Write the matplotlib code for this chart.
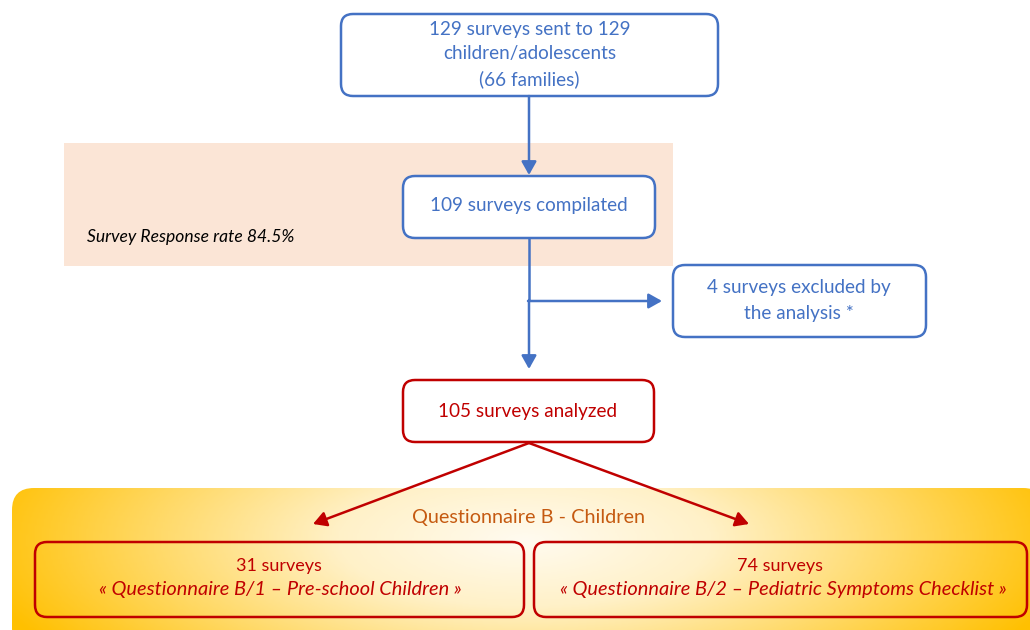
import matplotlib
matplotlib.use("Agg")
import matplotlib.pyplot as plt
import numpy as np
from matplotlib.patches import FancyBboxPatch, Rectangle, FancyArrowPatch
from matplotlib.colors import LinearSegmentedColormap

# ---- data ----
sent = 129
children = 129
families = 66
compiled = 109
response_rate = 84.5
excluded = 4
analyzed = 105
b1_count = 31
b2_count = 74
b1_name = "Questionnaire B/1 – Pre-school Children"
b2_name = "Questionnaire B/2 – Pediatric Symptoms Checklist"
group_name = "Questionnaire B - Children"

BLUE = "#4472C4"
RED = "#C00000"
FONT = "Lato"
W = "normal"
FS = 13.6

fig = plt.figure(figsize=(10.3, 6.3), dpi=100)
ax = fig.add_axes([0, 0, 1, 1])
ax.set_xlim(0, 1030)
ax.set_ylim(630, 0)
ax.axis("off")


def rbox(x0, y0, x1, y1, ec, fc="white", r=12, lw=1.8, z=3):
    p = FancyBboxPatch((x0, y0), x1 - x0, y1 - y0,
                       boxstyle=f"round,pad=0,rounding_size={r}",
                       ec=ec, fc=fc, lw=lw, zorder=z)
    ax.add_patch(p)
    return p


def arrow(x0, y0, x1, y1, color, lw=1.8):
    a = FancyArrowPatch((x0, y0), (x1, y1), arrowstyle="-|>,head_length=8,head_width=4.5",
                        color=color, lw=lw, mutation_scale=1, zorder=4,
                        shrinkA=0, shrinkB=0)
    ax.add_patch(a)


def txt(x, y, s, color, fs=FS, **kw):
    ax.text(x, y, s, color=color, fontsize=fs, family=FONT, fontweight=kw.pop("weight", W),
            ha=kw.pop("ha", "center"), va="center", zorder=5, **kw)


# peach band
ax.add_patch(Rectangle((64, 143), 609, 123, fc="#FBE5D6", ec="none", zorder=1))

# top box
rbox(341, 14, 718, 96, BLUE)
for y, t in zip([30, 54, 79], [f"{sent} surveys sent to {children}",
                               "children/adolescents",
                               f"({families} families)"]):
    txt(529.5, y, t, BLUE)

arrow(529, 96, 529, 175, BLUE)

# compiled box
rbox(403, 176, 655, 238, BLUE)
txt(529, 206, f"{compiled} surveys compilated", BLUE)
txt(87, 237, f"Survey Response rate {response_rate}%", "black", fs=12.6, style="italic", ha="left")

# line down with branch
ax.plot([529, 529], [238, 301], color=BLUE, lw=1.8, zorder=4, solid_capstyle="butt")
arrow(529, 300, 529, 369, BLUE)
arrow(528, 301, 662, 301, BLUE)

# excluded box
rbox(673, 265, 926, 337, BLUE)
txt(799, 288, f"{excluded} surveys excluded by", BLUE)
txt(799, 313, "the analysis *", BLUE)

# analyzed box
rbox(403, 380, 654, 442, RED)
txt(528, 411, f"{analyzed} surveys analyzed", RED)

# yellow gradient region
gx0, gy0, gx1, gy1 = 12, 488, 1045, 650
grad = FancyBboxPatch((gx0, gy0), gx1 - gx0, gy1 - gy0,
                      boxstyle="round,pad=0,rounding_size=22", fc="none", ec="none", zorder=1)
ax.add_patch(grad)
xx = np.linspace(gx0, gx1, 500)
yy = np.linspace(gy0, gy1, 100)
X, Y = np.meshgrid(xx, yy)
d = np.sqrt(((X - 525) / 560) ** 2 + ((Y - 540) / 200) ** 2)
d = np.clip(d, 0, 1)
cmap = LinearSegmentedColormap.from_list("g", ["#FFFBF0", "#FFF1C8", "#FFD966", "#FFC000"])
im = ax.imshow(d, extent=(gx0, gx1, gy1, gy0), cmap=cmap, vmin=0, vmax=1,
               aspect="auto", zorder=1, interpolation="bilinear")
im.set_clip_path(grad)

txt(529, 517, group_name, "#C55A11", fs=14.3)

arrow(529, 443, 313, 524, RED)
arrow(529, 443, 749, 524, RED)

rbox(35, 542, 524, 617, RED, fc="none")
rbox(534, 542, 1027, 617, RED, fc="none")
txt(279, 566, f"{b1_count} surveys", RED, fs=13)
txt(280, 590, f"« {b1_name} »", RED, fs=14.4, style="italic")
txt(780, 566, f"{b2_count} surveys", RED, fs=13)
txt(783, 590, f"« {b2_name} »", RED, fs=14.4, style="italic")

fig.savefig("out.png", dpi=100)
